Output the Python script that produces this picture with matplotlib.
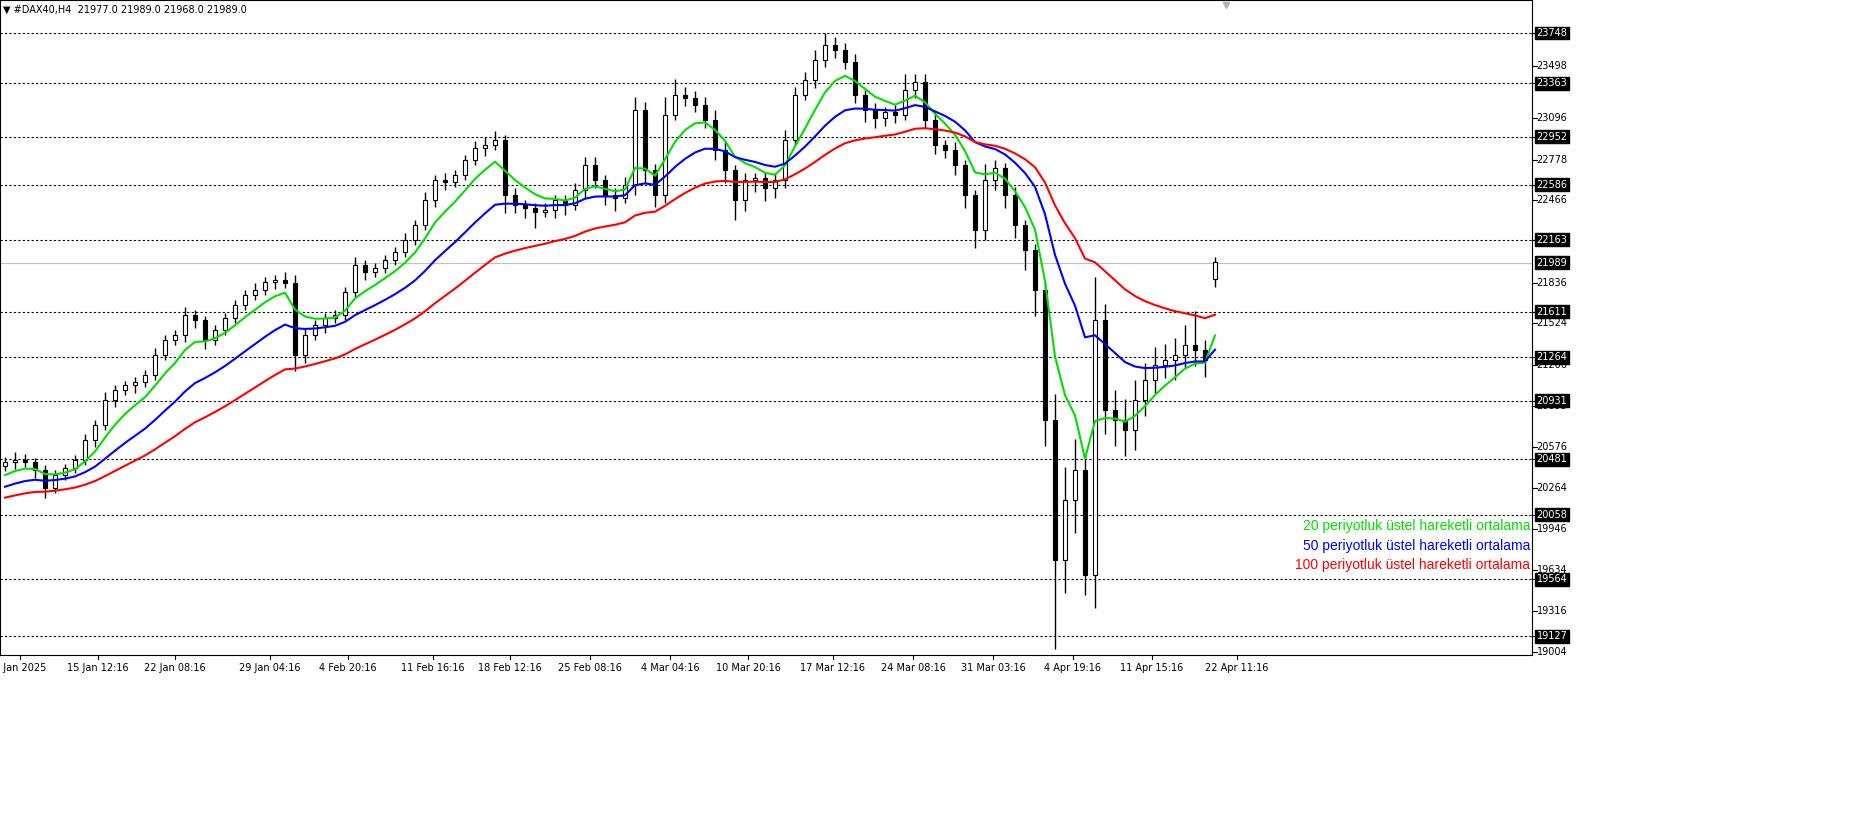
import matplotlib
matplotlib.use("Agg")
import matplotlib.pyplot as plt
import numpy as np
import pandas as pd

closes = [20461,20476,20461,20399,20262,20361,20415,20476,20629,20744,20936,21012,21051,21074,21127,21281,21396,21434,21587,21549,
          21396,21472,21564,21664,21740,21779,21840,21855,21832,21281,21434,21511,21564,21587,21763,21970,21917,21947,22009,22070,
          22162,22277,22468,22622,22606,22660,22775,22867,22890,22928,22507,22430,22407,22376,22392,22468,22430,22545,22737,22622,
          22507,22484,22583,23158,22698,22507,23120,23273,23250,23196,23081,22852,22698,22468,22622,22637,22560,22622,22928,23273,
          23388,23541,23656,23618,23526,23273,23158,23097,23143,23120,23311,23373,23081,22890,22852,22737,22507,22239,22622,22714,
          22507,22277,22085,21779,20783,19710,20170,20399,19595,21550,20859,20783,20706,20936,21089,21204,21242,21281,21357,21319,
          21242,21993]
wick_up = [40,60,50,30,40,40,30,40,50,40,60,40,30,40,40,50,40,40,60,40,
           30,40,40,40,40,50,40,40,60,60,50,40,40,40,40,60,40,40,40,40,
           50,40,60,40,50,40,40,50,60,70,40,50,40,40,50,40,40,50,60,60,
           40,50,60,100,60,50,140,120,60,50,60,80,60,40,50,40,40,50,80,60,
           60,80,90,60,50,60,40,50,40,50,120,60,60,70,40,60,40,40,120,60,
           40,60,40,50,60,200,250,240,120,330,120,150,160,150,130,140,120,130,150,260,
           80,40]
wick_dn = [40,50,40,60,80,40,40,40,40,50,40,50,40,60,40,40,40,40,50,60,
           70,40,40,40,40,40,40,50,40,120,60,40,60,40,40,40,60,40,40,40,
           40,40,40,50,60,40,40,40,60,40,140,60,80,120,40,60,80,40,60,60,
           80,100,40,80,100,90,60,40,60,50,60,80,100,150,80,90,100,80,60,40,
           40,60,50,60,50,60,90,80,60,60,40,60,60,70,60,80,100,140,80,80,
           100,100,150,200,200,680,250,250,150,250,180,200,200,150,120,100,100,150,100,120,
           130,60]
opens = [20430] + closes[:-1]
opens[-1] = 21860

bar_ratio = 3.2 / 10.0
ema_periods = [20, 50, 100]
ema_colors = ["#00e000", "#0000ff", "#ff0000"]
ema_seeds = [20323, 20246, 20170]
legend_texts = ["20 periyotluk üstel hareketli ortalama",
                "50 periyotluk üstel hareketli ortalama",
                "100 periyotluk üstel hareketli ortalama"]

levels = [23748, 23363, 22952, 22586, 22163, 21611, 21264, 20931, 20481, 20058, 19564, 19127]
plain_ticks = [23498, 23096, 22778, 22466, 21836, 21524, 21206, 20893, 20576, 20264, 19946, 19634, 19316, 19004]
last_price = 21989

xlabels = ["8 Jan 2025", "15 Jan 12:16", "22 Jan 08:16", "29 Jan 04:16", "4 Feb 20:16", "11 Feb 16:16",
           "18 Feb 12:16", "25 Feb 08:16", "4 Mar 04:16", "10 Mar 20:16", "17 Mar 12:16", "24 Mar 08:16",
           "31 Mar 03:16", "4 Apr 19:16", "11 Apr 15:16", "22 Apr 11:16"]
xlabel_pos = [1.5, 9.3, 17.0, 26.5, 34.3, 42.8, 50.5, 58.5, 66.5, 74.3, 82.8, 90.8, 98.8, 106.8, 114.7, 123.2]

W, H = 1870, 816
fig = plt.figure(figsize=(W/100, H/100), dpi=100)
ax = fig.add_axes([0, 1-655/H, 1532/W, 655/H])
ax.set_xlim(-0.5, 152.7)
ax.set_ylim(18982, 24001)

n = len(closes)
x = np.arange(n)
o = np.array(opens, float); c = np.array(closes, float)
hi = np.maximum(o, c) + np.array(wick_up); lo = np.minimum(o, c) - np.array(wick_dn)
ax.vlines(x, lo, hi, color="black", lw=1, zorder=3)
body = np.maximum(np.abs(c-o), 8)
ax.bar(x, body, bottom=np.minimum(o, c), width=0.35, color=np.where(c >= o, "white", "black"),
       edgecolor="black", lw=0.8, zorder=4)

for p, col, seed in zip(ema_periods, ema_colors, ema_seeds):
    s = pd.Series([seed] + closes)
    e = s.ewm(span=p*bar_ratio, adjust=False).mean().values[1:]
    ax.plot(x, e, color=col, lw=1.5, zorder=5)

for lv in levels:
    ax.axhline(lv, color="black", lw=0.8, ls=(0, (2, 2)), zorder=1)
ax.axhline(last_price, color="#c0c0c0", lw=0.8, zorder=1)

ax.set_yticks([])
for t in plain_ticks:
    ax.text(1.003, t, str(t), transform=ax.get_yaxis_transform(), va="center", ha="left",
            fontsize=7, color="black", zorder=1)
for lv in levels + [last_price]:
    ax.text(1.003, lv, str(lv), transform=ax.get_yaxis_transform(), va="center", ha="left",
            fontsize=7, color="white", zorder=3,
            bbox=dict(boxstyle="square,pad=0.15", fc="black", ec="black"))
for t in plain_ticks + levels:
    ax.plot([1.0, 1.003], [t, t], transform=ax.get_yaxis_transform(), color="black", lw=0.8, clip_on=False)

ax.set_xticks([])
for lab, px in zip(xlabels, xlabel_pos):
    ax.text(px, -0.012, lab, transform=ax.get_xaxis_transform(), ha="center", va="top", fontsize=7)
    ax.plot([px, px], [0, -0.006], transform=ax.get_xaxis_transform(), color="black", lw=0.8, clip_on=False)

for i, (t, col) in enumerate(zip(legend_texts, ema_colors)):
    ax.text(0.999, 0.197 - i*0.030, t, transform=ax.transAxes, ha="right", va="center",
            fontsize=10, color=col, fontfamily="Liberation Sans")

ax.text(0.002, 0.985, "▼ #DAX40,H4  21977.0 21989.0 21968.0 21989.0", transform=ax.transAxes,
        ha="left", va="center", fontsize=7)
ax.plot([0.8], [0.992], transform=ax.transAxes, marker="v", color="#b0b0b0", ms=5)

for s in ax.spines.values():
    s.set_linewidth(0.8)
fig.savefig("out.png", dpi=100)
